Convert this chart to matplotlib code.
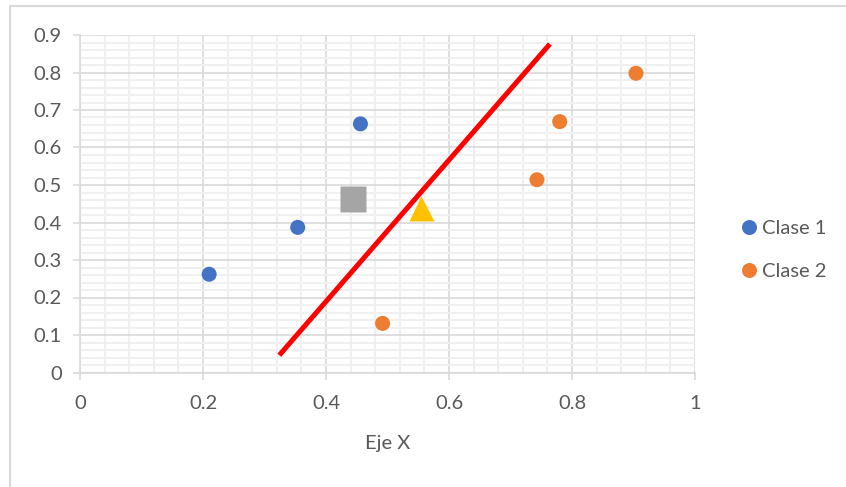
import numpy as np
import matplotlib.pyplot as plt
from matplotlib.lines import Line2D
from matplotlib.ticker import MultipleLocator, FuncFormatter

plt.rcParams['font.family'] = ['Lato', 'DejaVu Sans']

# Points of each class
clase1_x = [0.210, 0.354, 0.456]
clase1_y = [0.262, 0.387, 0.663]
clase2_x = [0.492, 0.743, 0.780, 0.904]
clase2_y = [0.131, 0.514, 0.669, 0.798]

# Class centroids / query point
square_xy = (0.444, 0.464)
triangle_xy = (0.555, 0.440)

# Separating line
line_x = [0.324, 0.764]
line_y = [0.046, 0.876]

BLUE = '#4472C4'
ORANGE = '#ED7D31'
GRID = '#D9D9D9'
MINOR = '#F0F0F0'
TXT = '#595959'
FS = 14.5

fig = plt.figure(figsize=(8.46, 4.87), dpi=100)
ax = fig.add_axes([80/846, 1-372.5/487, 615/846, 337.5/487])

ax.set_xlim(0, 1)
ax.set_ylim(0, 0.9)
ax.xaxis.set_major_locator(MultipleLocator(0.2))
ax.xaxis.set_minor_locator(MultipleLocator(0.04))
ax.yaxis.set_major_locator(MultipleLocator(0.1))
ax.yaxis.set_minor_locator(MultipleLocator(0.02))
fmt = FuncFormatter(lambda v, p: f'{round(v, 2):g}')
ax.xaxis.set_major_formatter(fmt)
ax.yaxis.set_major_formatter(fmt)

ax.grid(which='minor', color=MINOR, lw=1.5, zorder=0)
ax.grid(which='major', color=GRID, lw=1.2, zorder=0)
ax.set_axisbelow(True)

for s in ['top', 'right']:
    ax.spines[s].set_visible(False)
for s in ['left', 'bottom']:
    ax.spines[s].set_color(GRID)
    ax.spines[s].set_linewidth(1.2)

ax.tick_params(which='major', length=5, width=1.2, color=GRID, labelcolor=TXT,
               labelsize=FS)
ax.tick_params(axis='x', pad=11)
ax.tick_params(axis='y', pad=8)
ax.tick_params(which='minor', length=0)

ax.plot(line_x, line_y, color='#FF0000', lw=3.6, solid_capstyle='butt', zorder=3)
ax.scatter(clase1_x, clase1_y, s=117, color=BLUE, edgecolors='none', zorder=4, clip_on=False)
ax.scatter(clase2_x, clase2_y, s=117, color=ORANGE, edgecolors='none', zorder=4, clip_on=False)
ax.plot(*square_xy, marker='s', ms=18.7, color='#A5A5A5', mec='none', zorder=4)
ax.plot(*triangle_xy, marker='^', ms=18, color='#FFC000', mec='none', zorder=4)

ax.set_xlabel('Eje X', color=TXT, fontsize=FS, labelpad=17)

handles = [Line2D([], [], ls='none', marker='o', ms=10.8, color=BLUE, mec='none'),
           Line2D([], [], ls='none', marker='o', ms=10.8, color=ORANGE, mec='none')]
leg = fig.legend(handles, ['Clase 1', 'Clase 2'], loc='center left',
                 bbox_to_anchor=(732/846, 1-250/487), frameon=False,
                 fontsize=FS, labelcolor=TXT, handlelength=0.7,
                 handletextpad=0.3, labelspacing=1.3, borderpad=0)

# chart area border (top and left edges visible)
fig.add_artist(Line2D([10/846, 10/846, 1], [0, 1-6/487, 1-6/487],
                      color=GRID, lw=1.5, transform=fig.transFigure))

fig.savefig('out.png', dpi=100)
